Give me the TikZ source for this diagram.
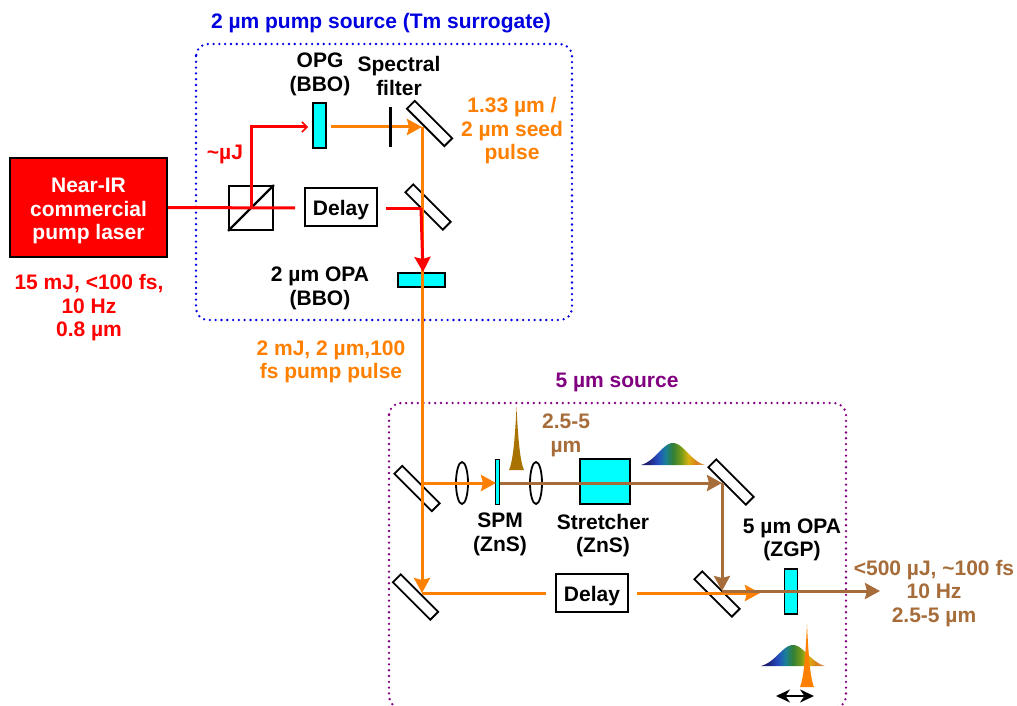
\documentclass[tikz,border=0pt]{standalone}
\usepackage{fontspec}
\setmainfont{Liberation Sans}
\usetikzlibrary{arrows.meta,shapes.geometric}
\definecolor{figO}{RGB}{255,128,0}
\definecolor{figR}{RGB}{255,0,0}
\definecolor{figT}{RGB}{166,108,58}
\definecolor{figC}{RGB}{0,255,255}
\definecolor{figP}{RGB}{128,0,128}
\definecolor{figB}{RGB}{0,0,224}
\definecolor{figG}{RGB}{168,115,0}
\pgfdeclarehorizontalshading{specwide}{100bp}{rgb(0bp)=(0.12,0.12,0.45); rgb(30bp)=(0.12,0.12,0.45); rgb(38bp)=(0.15,0.3,0.75); rgb(44bp)=(0.1,0.5,0.6); rgb(50bp)=(0.2,0.5,0.2); rgb(56bp)=(0.45,0.6,0.1); rgb(62bp)=(0.85,0.7,0.05); rgb(68bp)=(0.85,0.5,0.1); rgb(75bp)=(0.8,0.6,0.4); rgb(100bp)=(0.8,0.6,0.4)}
\newcommand{\pulsewide}[4]{(#1-#3,#2) -- plot[domain=-1:1,samples=41] ({#1+\x*#3},{#2-#4*(exp(-2.5*\x*\x)-0.082)/0.918}) -- cycle}
\newcommand{\pulsenarrow}[4]{(#1-#3,#2) -- plot[domain=-1:1,samples=41] ({#1+\x*#3},{#2-#4*(exp(-2.2*abs(\x))-0.111)/0.889}) -- cycle}
\tikzset{
  lbl/.style={font=\fontsize{21}{23.5}\selectfont\bfseries,align=center,inner sep=0pt},
  beamR/.style={draw=figR,line width=3pt},
  beamO/.style={draw=figO,line width=3pt},
  beamT/.style={draw=figT,line width=3pt},
  tipO/.style={-{Stealth[length=15pt,width=16pt,inset=2pt]}},
  opt/.style={draw=black,line width=1.8pt,inner sep=0pt},
  crystal/.style={opt,fill=figC},
  mirror/.style={opt,rotate=-45,minimum width=53pt,minimum height=11pt},
  lens/.style={opt,ellipse,minimum width=12pt,minimum height=42pt},
  delaybox/.style={lbl,opt,minimum width=72pt,minimum height=38pt,text height=17pt,text depth=0pt},
  dotbox/.style={rounded corners=12pt,line width=2.6pt,line cap=round,dash pattern=on 0pt off 5.8pt}
}
\begin{document}
\begin{tikzpicture}[x=1pt,y=-1pt]
\clip (0,0) rectangle (1017,706);
% enclosures
\draw[dotbox,figB] (196,44) rectangle (572,320);
\draw[dotbox,figP] (389,403) rectangle (846,708);
\node[lbl,figB] (titleA) at (381,23) {2 µm pump source (Tm surrogate)};
\node[lbl,figP] (titleB) at (617,382) {5 µm source};
% pump source parts
\node[draw=black,line width=1.8pt,fill=figR,minimum width=157pt,minimum height=99pt] (laser) at (88.5,207.5) {};
\node[lbl,text=white] (laserLbl) at (88.5,211) {Near-IR\\commercial\\pump laser};
\node[opt,minimum width=44pt,minimum height=44pt] (pbs) at (251,208) {};
\draw[black,line width=2.4pt] (pbs.south west) -- (pbs.north east);
\node[delaybox] (delayA) at (341,207) {Delay};
\node[crystal,minimum width=13pt,minimum height=45pt] (opg) at (319.5,125.5) {};
\node[mirror] (mirA) at (429.5,123.5) {};
\node[mirror] (mirB) at (428,207) {};
\node[crystal,minimum width=47pt,minimum height=14pt] (opaA) at (421.5,280) {};
% 5 um parts
\node[mirror] (mirC) at (417,488.5) {};
\node[mirror] (mirD) at (415.5,597) {};
\node[lens] (lensA) at (462,483) {};
\node[lens] (lensB) at (536,483) {};
\node[crystal,minimum width=4pt,minimum height=45pt] (spm) at (497.5,482) {};
\node[crystal,minimum width=50pt,minimum height=45pt] (stretch) at (605,481.5) {};
\node[mirror] (mirE) at (731,482) {};
\node[mirror] (mirF) at (717,594) {};
\node[delaybox] (delayB) at (592,593) {Delay};
\node[crystal,minimum width=13pt,minimum height=45pt] (zgp) at (791,591.5) {};
% beam corners and free ends
\coordinate (laserEnd) at (295,208);
\coordinate (pbsTurn) at (251,208);
\coordinate (pbsTop) at (251,127);
\coordinate (opgIn) at (308,127);
\coordinate (opgOut) at (331,127);
\coordinate (seedTurn) at (422,127);
\coordinate (dlyOut) at (386,208);
\coordinate (mirBTurn) at (421,208);
\coordinate (opaTop) at (423,272);
\coordinate (mirCTurn) at (422,483);
\coordinate (mirDTurn) at (422,593);
\coordinate (dlyBIn) at (546,593);
\coordinate (dlyBOut) at (637,593);
\coordinate (orangeEnd) at (760,593);
\coordinate (spmIn) at (496,483);
\coordinate (spmOut) at (500,483);
\coordinate (mirETurn) at (722,483);
\coordinate (mirFTurn) at (722,591);
\coordinate (outEnd) at (880,591);
% beams
\draw[beamR] (laser.east) -- (laserEnd);
\draw[beamR,-{Straight Barb[length=5pt,width=10pt,line width=1.5pt]}] (pbsTurn) -- (pbsTop) -- (opgIn);
\draw[beamO,tipO] (opgOut) -- (seedTurn);
\draw[black,line width=3pt] (390,107) -- (390,147);
\draw[beamO] (seedTurn) -- (mirCTurn);
\draw[beamO,tipO] (mirCTurn) -- (mirDTurn);
\draw[beamR] (dlyOut) -- (mirBTurn);
\draw[beamR,tipO] (mirBTurn) -- (opaTop);
\draw[beamO,tipO] (mirCTurn) -- (spmIn);
\draw[beamT,tipO] (spmOut) -- (mirETurn);
\draw[beamT,tipO] (mirETurn) -- (mirFTurn);
\draw[beamO] (mirDTurn) -- (dlyBIn);
\draw[beamO,tipO] (dlyBOut) -- (orangeEnd);
\draw[beamT,tipO] (mirFTurn) -- (outEnd);
% pulses
\fill[figG] \pulsenarrow{516.5}{470}{7.5}{63};
\shade[shading=specwide] \pulsewide{673}{465}{32}{22};
\shade[shading=specwide] \pulsewide{793}{666}{32}{21};
\fill[figO] \pulsenarrow{807}{687}{7}{63};
\coordinate (scanL) at (776,696);
\coordinate (scanR) at (814,696);
\draw[black,line width=2.2pt,{Stealth[length=14pt,width=13pt]}-{Stealth[length=14pt,width=13pt]}] (scanL) -- (scanR);
% labels
\node[lbl,figR] (specLaser) at (89,308) {15 mJ, <100 fs,\\10 Hz\\0.8 µm};
\node[lbl,figR] (energy) at (225,154) {\textasciitilde µJ};
\node[lbl] (opgLbl) at (320,74.5) {OPG\\(BBO)};
\node[lbl] (filtLbl) at (399,76) {Spectral\\filter};
\node[lbl,figO] (seedLbl) at (512,131) {1.33 µm /\\2 µm seed\\pulse};
\node[lbl] (opaLbl) at (320,288.5) {2 µm OPA\\(BBO)};
\node[lbl,figO] (pumpLbl) at (331,362) {2 mJ, 2 µm,100\\fs pump pulse};
\node[lbl,figT] (bandLbl) at (566,435.5) {2.5-5\\µm};
\node[lbl] (spmLbl) at (500,534.5) {SPM\\(ZnS)};
\node[lbl] (strLbl) at (603,535.5) {Stretcher\\(ZnS)};
\node[lbl] (zgpLbl) at (792,540) {5 µm OPA\\(ZGP)};
\node[lbl,figT] (outLbl) at (934,593.5) {<500 µJ, \textasciitilde 100 fs\\10 Hz\\2.5-5 µm};
\end{tikzpicture}
\end{document}
